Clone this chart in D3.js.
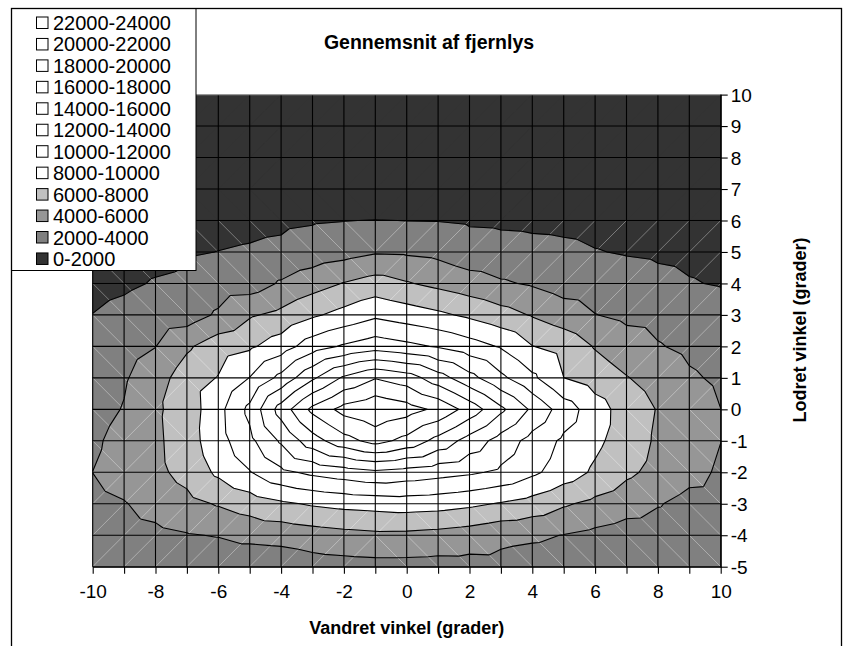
<!DOCTYPE html>
<html>
<head>
<meta charset="utf-8">
<title>Gennemsnit af fjernlys</title>
<style>
  body { margin: 0; background: #fff; }
  text { font-family: "Liberation Sans", Arial, sans-serif; fill: #000; }
  .tick text { font-size: 19px; }
  .axis-title { font-size: 18px; font-weight: bold; }
  .chart-title { font-size: 19.5px; font-weight: bold; }
  .legend text { font-size: 20px; }
</style>
</head>
<body>
<svg id="chart" width="847" height="646"></svg>
<script src="https://d3js.org/d3.v7.min.js"></script>
<script>
// vandret vinkel (x) og lodret vinkel (y), grader
const xCats = [-10, -9, -8, -7, -6, -5, -4, -3, -2, -1, 0, 1, 2, 3, 4, 5, 6, 7, 8, 9, 10];
const yCats = [-5, -4, -3, -2, -1, 0, 1, 2, 3, 4, 5, 6, 7, 8, 9, 10];

// belysning pr. lodret vinkel, fra x = -10 til x = 10
const rowM5 = [2700, 2750, 2700, 2600, 2500, 2500, 2650, 3100, 3250, 3350, 3360, 3280, 3320, 3390, 3100, 3000, 2800, 2600, 2500, 2500, 2400];
const rowM4 = [3100, 3300, 3565, 3877, 4100, 4565, 4741, 5094, 5397, 5600, 5559, 5345, 5017, 4495, 4300, 3950, 3523, 3100, 3000, 2850, 2800];
const rowM3 = [3500, 3900, 4652, 5409, 6165, 6917, 7669, 8219, 8571, 8750, 8949, 8793, 8407, 7839, 7200, 6233, 5510, 4821, 4131, 3400, 3300];
const rowM2 = [4010, 4760, 5521, 6661, 8379, 9894, 11563, 12432, 13016, 13600, 13170, 12740, 12310, 11650, 10400, 9049, 7677, 6387, 5417, 4583, 3750];
const rowM1 = [3700, 4611, 5600, 7100, 9216, 11500, 14286, 17143, 19273, 20700, 19400, 17333, 15200, 13200, 11273, 9641, 8443, 7031, 5717, 4858, 4020];
const row0  = [3300, 4100, 5700, 6900, 9350, 12500, 16870, 20500, 22700, 23600, 22850, 21560, 19190, 16420, 13640, 11040, 8920, 7080, 5900, 4900, 4010];
const row1  = [3000, 3800, 5120, 7000, 8100, 10050, 12571, 15667, 18317, 19900, 19000, 16889, 14667, 12444, 10400, 8020, 7048, 6095, 5217, 4250, 3700];
const row2  = [2700, 3200, 3960, 5700, 7100, 7700, 9000, 11067, 12254, 13100, 12500, 11810, 10857, 9818, 8050, 7300, 5870, 4900, 4130, 3600, 3200];
const row3  = [2020, 2350, 2700, 3000, 4300, 5778, 6500, 7699, 8650, 9620, 9000, 8374, 7643, 6750, 5861, 4991, 4050, 3550, 3400, 3000, 2733];
const row4  = [1600, 1794, 2087, 2207, 2900, 3030, 4211, 5167, 6092, 6800, 6150, 5510, 4873, 4236, 3793, 3100, 2900, 2669, 2356, 2085, 1900];
const row5  = [1400, 1500, 1650, 1850, 2021, 2156, 2352, 2850, 3270, 3820, 3740, 3500, 2800, 2583, 2432, 2310, 2061, 1900, 1800, 1700, 1600];
const row6  = [1100, 1200, 1300, 1400, 1500, 1600, 1700, 1850, 1960, 2050, 1980, 1950, 1800, 1750, 1700, 1650, 1550, 1450, 1350, 1250, 1150];
const row7  = [0, 0, 0, 0, 0, 0, 0, 0, 0, 0, 0, 0, 0, 0, 0, 0, 0, 0, 0, 0, 0];
const row8  = [0, 0, 0, 0, 0, 0, 0, 0, 0, 0, 0, 0, 0, 0, 0, 0, 0, 0, 0, 0, 0];
const row9  = [0, 0, 0, 0, 0, 0, 0, 0, 0, 0, 0, 0, 0, 0, 0, 0, 0, 0, 0, 0, 0];
const row10 = [0, 0, 0, 0, 0, 0, 0, 0, 0, 0, 0, 0, 0, 0, 0, 0, 0, 0, 0, 0, 0];
const rows = [rowM5, rowM4, rowM3, rowM2, rowM1, row0, row1, row2, row3, row4, row5, row6, row7, row8, row9, row10];

// intervaller i forklaringen (øverst først)
const bandLabels = ["22000-24000", "20000-22000", "18000-20000", "16000-18000", "14000-16000", "12000-14000",
                    "10000-12000", "8000-10000", "6000-8000", "4000-6000", "2000-4000", "0-2000"];
const bandLow  = [22000, 20000, 18000, 16000, 14000, 12000, 10000, 8000, 6000, 4000, 2000, 0];
const bandHigh = [24000, 22000, 20000, 18000, 16000, 14000, 12000, 10000, 8000, 6000, 4000, 2000];
const levels = [2000, 4000, 6000, 8000, 10000, 12000, 14000, 16000, 18000, 20000, 22000];

const bandColors = ["#ffffff", "#ffffff", "#ffffff", "#ffffff", "#ffffff", "#ffffff",
                    "#ffffff", "#ffffff", "#c0c0c0", "#969696", "#808080", "#333333"];

const svg = d3.select("#chart");

const x = d3.scaleLinear().domain([-10, 10]).range([92.7, 720.7]);
const y = d3.scaleLinear().domain([-5, 10]).range([566.7, 94.6]);

// trekanter som i Excel: hver celle deles langs diagonalen gennem det højeste hjørne
const triangles = [];
const diagonals = [];
for (let j = 0; j < yCats.length - 1; j++) {
  for (let i = 0; i < xCats.length - 1; i++) {
    const p00 = [xCats[i], yCats[j], rows[j][i]];
    const p10 = [xCats[i + 1], yCats[j], rows[j][i + 1]];
    const p01 = [xCats[i], yCats[j + 1], rows[j + 1][i]];
    const p11 = [xCats[i + 1], yCats[j + 1], rows[j + 1][i + 1]];
    const vmax = Math.max(p00[2], p10[2], p01[2], p11[2]);
    const vmin = Math.min(p00[2], p10[2], p01[2], p11[2]);
    let d;
    if (vmax === p00[2] || vmax === p11[2]) {
      triangles.push([p00, p10, p11], [p00, p11, p01]);
      d = [p00, p11];
    } else {
      triangles.push([p00, p10, p01], [p10, p11, p01]);
      d = [p10, p01];
    }
    if (vmin > 0) diagonals.push(d);
  }
}

function clip(poly, L, above) {
  const out = [];
  for (let k = 0; k < poly.length; k++) {
    const a = poly[k], b = poly[(k + 1) % poly.length];
    const ina = above ? a[2] >= L : a[2] < L;
    const inb = above ? b[2] >= L : b[2] < L;
    if (ina) out.push(a);
    if (ina !== inb) {
      const t = (L - a[2]) / (b[2] - a[2]);
      out.push([a[0] + t * (b[0] - a[0]), a[1] + t * (b[1] - a[1]), L]);
    }
  }
  return out;
}

const plot = svg.append("g");

// udfyldte intervaller
bandLow.forEach((lo, k) => {
  const hi = bandHigh[k];
  const path = d3.path();
  triangles.forEach(tri => {
    let poly = clip(tri, lo, true);
    if (poly.length >= 3) poly = clip(poly, hi, false);
    if (poly.length >= 3) {
      path.moveTo(x(poly[0][0]), y(poly[0][1]));
      for (let m = 1; m < poly.length; m++) path.lineTo(x(poly[m][0]), y(poly[m][1]));
      path.closePath();
    }
  });
  plot.append("path")
    .attr("d", path.toString())
    .attr("fill", bandColors[k])
    .attr("stroke", bandColors[k])
    .attr("stroke-width", 0.6)
    .attr("stroke-linejoin", "round");
});

// lyse diagonaler
plot.append("g").selectAll("line")
  .data(diagonals)
  .join("line")
  .attr("x1", d => x(d[0][0])).attr("y1", d => y(d[0][1]))
  .attr("x2", d => x(d[1][0])).attr("y2", d => y(d[1][1]))
  .attr("stroke", "#ffffff")
  .attr("stroke-opacity", 0.45)
  .attr("stroke-width", 0.8);

// konturlinjer
const cpath = d3.path();
triangles.forEach(tri => {
  levels.forEach(L => {
    const pts = [];
    for (let k = 0; k < 3; k++) {
      const a = tri[k], b = tri[(k + 1) % 3];
      if ((a[2] >= L) !== (b[2] >= L)) {
        const t = (L - a[2]) / (b[2] - a[2]);
        pts.push([a[0] + t * (b[0] - a[0]), a[1] + t * (b[1] - a[1])]);
      }
    }
    if (pts.length === 2) {
      cpath.moveTo(x(pts[0][0]), y(pts[0][1]));
      cpath.lineTo(x(pts[1][0]), y(pts[1][1]));
    }
  });
});
plot.append("path")
  .attr("d", cpath.toString())
  .attr("fill", "none")
  .attr("stroke", "#000")
  .attr("stroke-width", 1.1);

// gitterlinjer
plot.append("g").selectAll("line")
  .data(xCats)
  .join("line")
  .attr("x1", d => x(d)).attr("x2", d => x(d))
  .attr("y1", y(-5)).attr("y2", y(10))
  .attr("stroke", "#000").attr("stroke-width", 1.1);
plot.append("g").selectAll("line")
  .data(yCats)
  .join("line")
  .attr("x1", x(-10)).attr("x2", x(10))
  .attr("y1", d => y(d)).attr("y2", d => y(d))
  .attr("stroke", d => d === 10 ? "#999" : "#000")
  .attr("stroke-width", 1.1);

// akser
const xAxis = svg.append("g")
  .attr("transform", `translate(0,${y(-5)})`)
  .call(d3.axisBottom(x).tickValues(xCats).tickSize(7).tickSizeOuter(0).tickPadding(4)
    .tickFormat(d => d % 2 === 0 ? String(d) : ""));
const yAxis = svg.append("g")
  .attr("transform", `translate(${x(10)},0)`)
  .call(d3.axisRight(y).tickValues(yCats).tickSize(7).tickSizeOuter(0).tickPadding(3)
    .tickFormat(d => String(d)));
[xAxis, yAxis].forEach(g => {
  g.attr("font-family", null).attr("font-size", null);
  g.select(".domain").attr("stroke", "#000").attr("stroke-width", 1.1);
  g.selectAll(".tick line").attr("stroke", "#000").attr("stroke-width", 1.1);
});
xAxis.selectAll(".tick text").attr("dy", null).attr("y", 31.5);
yAxis.selectAll(".tick text").attr("dy", "0.35em");

// titler
svg.append("text")
  .attr("class", "chart-title")
  .attr("x", 429).attr("y", 49)
  .attr("text-anchor", "middle")
  .text("Gennemsnit af fjernlys");
svg.append("text")
  .attr("class", "axis-title")
  .attr("x", (x(-10) + x(10)) / 2).attr("y", 634)
  .attr("text-anchor", "middle")
  .text("Vandret vinkel (grader)");
svg.append("text")
  .attr("class", "axis-title")
  .attr("transform", "translate(806,330) rotate(-90)")
  .attr("text-anchor", "middle")
  .text("Lodret vinkel (grader)");

// forklaring
const legend = svg.append("g").attr("class", "legend");
legend.append("rect")
  .attr("x", 11.5).attr("y", 8.5).attr("width", 184.5).attr("height", 262)
  .attr("fill", "#fff").attr("stroke", "#000").attr("stroke-width", 1);
const entry = legend.selectAll("g.entry")
  .data(bandLabels)
  .join("g")
  .attr("class", "entry")
  .attr("transform", (d, i) => `translate(0,${23 + i * 21.45})`);
entry.append("rect")
  .attr("x", 36.5).attr("y", -6).attr("width", 11.5).attr("height", 11.5)
  .attr("fill", (d, i) => bandColors[i])
  .attr("stroke", "#000").attr("stroke-width", 1);
entry.append("text")
  .attr("x", 53).attr("y", 7)
  .text(d => d);

// diagramramme
svg.append("rect")
  .attr("x", 11.5).attr("y", 8.5).attr("width", 830).attr("height", 700)
  .attr("fill", "none").attr("stroke", "#000").attr("stroke-width", 1.3);
</script>
</body>
</html>
